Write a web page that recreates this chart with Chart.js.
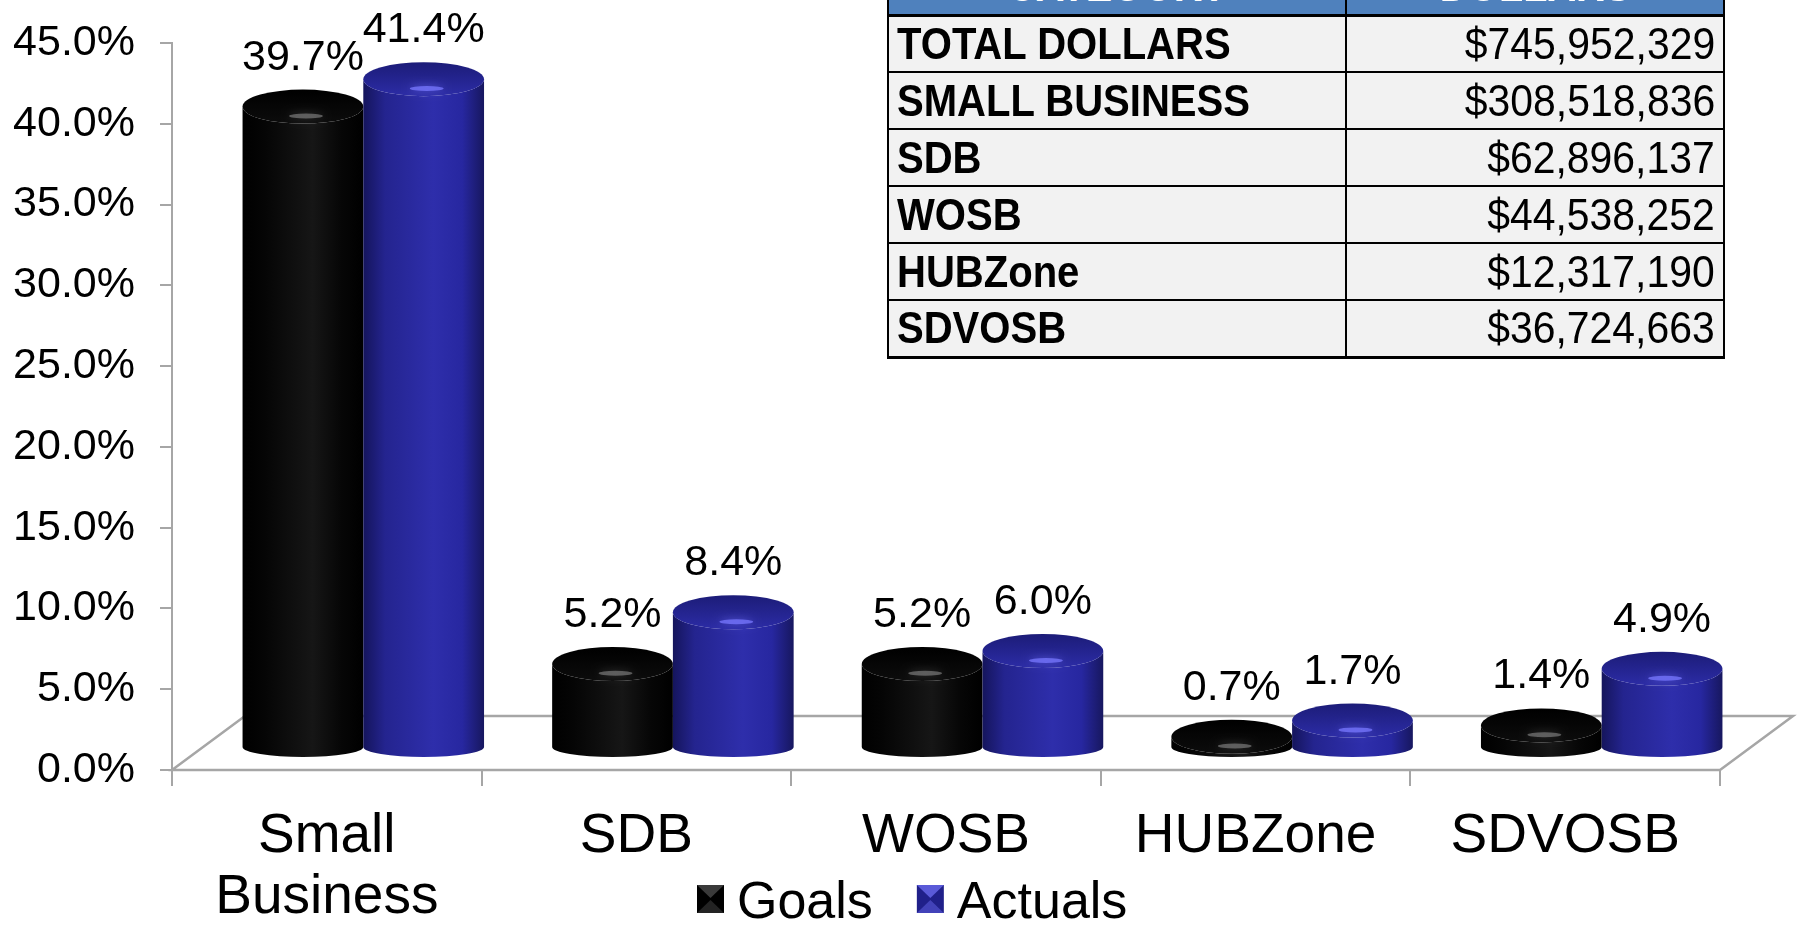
<!DOCTYPE html>
<html>
<head>
<meta charset="utf-8">
<script src="https://cdn.jsdelivr.net/npm/chart.js@4.4.1/dist/chart.umd.min.js"></script>
<style>
html, body { margin: 0; padding: 0; background: #fff; overflow: hidden; }
#wrap { position: relative; width: 1807px; height: 931px; overflow: hidden; }
#chart { position: absolute; left: 0; top: 0; }
#tbl {
	position: absolute; left: 887px; top: -43px;
	border-collapse: collapse; table-layout: fixed; width: 836px;
	font-family: "Liberation Sans", Arial, sans-serif; font-size: 44px;
}
#tbl td, #tbl th { border: 2px solid #000; padding: 0 8px; white-space: nowrap; overflow: hidden; }
#tbl tr { height: 57px; }
#tbl th { background: #4f81bd; color: #fff; font-weight: bold; text-align: center; border-bottom: 3px solid #000; }
#tbl td { background: #f2f2f2; color: #000; }
#tbl td.cat { font-weight: bold; text-align: left; }
#tbl td.val { text-align: right; }
#tbl span { display: inline-block; }
#tbl td.cat span { transform: scaleX(0.91); transform-origin: left center; }
#tbl td.val span { transform: scaleX(0.93); transform-origin: right center; }
#tbl th span { transform: scaleX(0.9); }
#tbl tr:last-child td { border-bottom-width: 3px; }
</style>
</head>
<body>
<div id="wrap">
	<canvas id="chart" width="1807" height="931"></canvas>
	<table id="tbl"></table>
</div>
<script>
const categories = [['Small', 'Business'], 'SDB', 'WOSB', 'HUBZone', 'SDVOSB'];
const goals = [39.7, 5.2, 5.2, 0.7, 1.4];
const actuals = [41.4, 8.4, 6.0, 1.7, 4.9];
const yTicks = [0, 5, 10, 15, 20, 25, 30, 35, 40, 45];

const tableHead = ['CATEGORY', 'DOLLARS'];
const tableCategories = ['TOTAL DOLLARS', 'SMALL BUSINESS', 'SDB', 'WOSB', 'HUBZone', 'SDVOSB'];
const tableDollars = ['$745,952,329', '$308,518,836', '$62,896,137', '$44,538,252', '$12,317,190', '$36,724,663'];

const FONT = '"Liberation Sans", Arial, sans-serif';
const DEPTH_X = 73, DEPTH_Y = -54;   // floor depth
const LIFT = -22;                     // bars sit mid-depth on the floor
const RY_TOP = 17, RY_BOT = 10;
const AXIS_GRAY = '#a6a6a6';

const palettes = [
	{ // goals
		side: ['#000000', '#050505', '#161616', '#060606', '#000000'],
		top: ['#000000', '#0c0c0c'],
		glow: 'rgba(150,150,150,0.55)',
		box: ['#3a3a3a', '#000000']
	},
	{ // actuals
		side: ['#15155c', '#24248f', '#2e2eab', '#2727a0', '#17175f'],
		top: ['#1c1c78', '#2c2ca6'],
		glow: 'rgba(120,120,255,0.75)',
		box: ['#5a5ad8', '#20208a']
	}
];

// table
(() => {
	const tbl = document.getElementById('tbl');
	let html = '<colgroup><col style="width:458px"><col style="width:378px"></colgroup>';
	html += '<tr>' + tableHead.map(h => `<th><span>${h}</span></th>`).join('') + '</tr>';
	tableCategories.forEach((c, i) => {
		html += `<tr><td class="cat"><span>${c}</span></td><td class="val"><span>${tableDollars[i]}</span></td></tr>`;
	});
	tbl.innerHTML = html;
})();

function drawCylinder(ctx, p, pal) {
	const cx = p.x + DEPTH_X / 2,
		rx = p.width / 2,
		top = p.y + LIFT,
		bot = p.base + LIFT,
		left = cx - rx,
		right = cx + rx;

	ctx.save();
	// side wall
	const g = ctx.createLinearGradient(left, 0, right, 0);
	[0, 0.18, 0.58, 0.82, 1].forEach((s, i) => g.addColorStop(s, pal.side[i]));
	ctx.beginPath();
	ctx.moveTo(left, top);
	ctx.lineTo(left, bot);
	ctx.ellipse(cx, bot, rx, RY_BOT, 0, Math.PI, 0, true);
	ctx.lineTo(right, top);
	ctx.ellipse(cx, top, rx, RY_TOP, 0, 0, Math.PI, false);
	ctx.closePath();
	ctx.fillStyle = g;
	ctx.fill();

	// top face
	const tg = ctx.createLinearGradient(0, top - RY_TOP, 0, top + RY_TOP);
	tg.addColorStop(0, pal.top[0]);
	tg.addColorStop(1, pal.top[1]);
	ctx.beginPath();
	ctx.ellipse(cx, top, rx, RY_TOP, 0, 0, Math.PI * 2);
	ctx.fillStyle = tg;
	ctx.fill();

	// soft highlight on the front rim
	ctx.beginPath();
	ctx.ellipse(cx + rx * 0.05, top + RY_TOP * 0.55, rx * 0.28, 2.5, 0, 0, Math.PI * 2);
	ctx.shadowColor = pal.glow;
	ctx.shadowBlur = 8;
	ctx.fillStyle = pal.glow;
	ctx.fill();
	ctx.restore();

	return { cx, top };
}

const cylinders = {
	id: 'cylinders',
	beforeDatasetsDraw(chart) {
		const { ctx, chartArea: a } = chart;
		ctx.save();
		ctx.beginPath();
		ctx.moveTo(a.left, a.bottom);
		ctx.lineTo(a.right, a.bottom);
		ctx.lineTo(a.right + DEPTH_X, a.bottom + DEPTH_Y);
		ctx.lineTo(a.left + DEPTH_X, a.bottom + DEPTH_Y);
		ctx.closePath();
		ctx.strokeStyle = AXIS_GRAY;
		ctx.lineWidth = 2.5;
		ctx.stroke();
		ctx.restore();
	},
	afterDatasetsDraw(chart) {
		const ctx = chart.ctx,
			metas = chart.getSortedVisibleDatasetMetas(),
			labels = [];

		chart.data.labels.forEach((_, i) => {
			metas.forEach(meta => {
				const p = meta.data[i].getProps(['x', 'y', 'base', 'width'], true);
				const c = drawCylinder(ctx, p, palettes[meta.index]);
				labels.push({ x: c.cx, y: c.top - RY_TOP - 20, v: chart.data.datasets[meta.index].data[i] });
			});
		});

		ctx.save();
		ctx.font = `43px ${FONT}`;
		ctx.fillStyle = '#000';
		ctx.textAlign = 'center';
		ctx.textBaseline = 'alphabetic';
		labels.forEach(l => ctx.fillText(l.v.toFixed(1) + '%', l.x, l.y));
		ctx.restore();
	},
	afterDraw(chart) {
		// legend
		const ctx = chart.ctx;
		let x = 697;
		const boxY = 885, boxW = 27, boxH = 28, baseY = 918;
		ctx.save();
		ctx.font = `52px ${FONT}`;
		ctx.textBaseline = 'alphabetic';
		chart.data.datasets.forEach((ds, i) => {
			const pal = palettes[i];
			ctx.fillStyle = pal.box[1];
			ctx.fillRect(x, boxY, boxW, boxH);
			// bevelled look: lighter top / bottom wedges
			ctx.fillStyle = pal.box[0];
			ctx.beginPath();
			ctx.moveTo(x, boxY); ctx.lineTo(x + boxW, boxY); ctx.lineTo(x + boxW / 2, boxY + boxH / 2 - 1); ctx.closePath();
			ctx.fill();
			ctx.globalAlpha = 0.6;
			ctx.beginPath();
			ctx.moveTo(x, boxY + boxH); ctx.lineTo(x + boxW, boxY + boxH); ctx.lineTo(x + boxW / 2, boxY + boxH / 2 + 1); ctx.closePath();
			ctx.fill();
			ctx.globalAlpha = 1;
			ctx.fillStyle = '#000';
			ctx.fillText(ds.label, x + boxW + 13, baseY);
			x += boxW + 13 + ctx.measureText(ds.label).width + 44;
		});
		ctx.restore();
	}
};

Chart.defaults.font.family = FONT;
Chart.defaults.color = '#000';

new Chart(document.getElementById('chart'), {
	type: 'bar',
	data: {
		labels: categories,
		datasets: [
			{ label: 'Goals', data: goals, backgroundColor: 'rgba(0,0,0,0)', borderWidth: 0 },
			{ label: 'Actuals', data: actuals, backgroundColor: 'rgba(0,0,0,0)', borderWidth: 0 }
		]
	},
	options: {
		responsive: false,
		animation: false,
		events: [],
		layout: { padding: { left: 0, right: 87, top: 43, bottom: 0 } },
		datasets: { bar: { barPercentage: 1, categoryPercentage: 0.78 } },
		plugins: { legend: { display: false }, tooltip: { enabled: false } },
		scales: {
			x: {
				grid: { drawOnChartArea: false, tickLength: 16, color: AXIS_GRAY, lineWidth: 2, offset: true },
				border: { display: false },
				ticks: { font: { size: 55, lineHeight: 1.11 }, color: '#000', padding: 20, maxRotation: 0, autoSkip: false },
				afterFit(s) { s.height = 161; }
			},
			y: {
				min: 0,
				max: 45,
				afterBuildTicks(s) { s.ticks = yTicks.map(v => ({ value: v })); },
				ticks: { callback: v => v.toFixed(1) + '%', font: { size: 43 }, color: '#000', padding: 25 },
				grid: { drawOnChartArea: false, tickLength: 12, color: AXIS_GRAY, lineWidth: 2 },
				border: { display: true, color: AXIS_GRAY, width: 2 },
				afterFit(s) {
					s.width = 172;
					s.paddingTop = 0;
					s.paddingBottom = 0;
				}
			}
		}
	},
	plugins: [cylinders]
});
</script>
</body>
</html>
